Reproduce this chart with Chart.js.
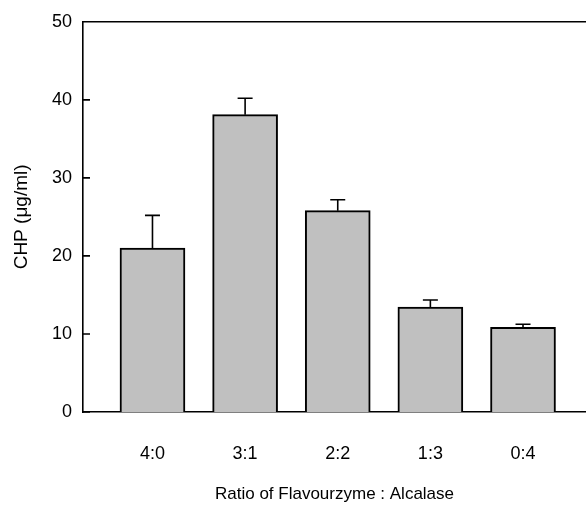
<!DOCTYPE html>
<html>
<head>
<meta charset="utf-8">
<script src="https://cdn.jsdelivr.net/npm/chart.js@4/dist/chart.umd.min.js"></script>
<style>
  html, body { margin: 0; padding: 0; background: #fff; }
  #wrap { width: 586px; height: 509px; }
</style>
</head>
<body>
<div id="wrap"><canvas id="chp"></canvas></div>
<script>
const categories = ['4:0', '3:1', '2:2', '1:3', '0:4'];
const chpValues = [21.0, 38.1, 25.8, 13.45, 10.85];
const chpErrors = [4.2, 2.1, 1.4, 0.9, 0.4];
const yTicks = [0, 10, 20, 30, 40, 50];

const font = 'Liberation Sans, Arial, sans-serif';

// upward error bars on top of each bar
const errorBars = {
    id: 'errorBars',
    afterDatasetsDraw(chart) {
        const ctx = chart.ctx;
        const yScale = chart.scales.y;
        const meta = chart.getDatasetMeta(0);
        ctx.save();
        ctx.strokeStyle = '#000';
        ctx.lineWidth = 1.6;
        meta.data.forEach((bar, i) => {
            const top = yScale.getPixelForValue(chpValues[i] + chpErrors[i]);
            ctx.beginPath();
            ctx.moveTo(bar.x, bar.y);
            ctx.lineTo(bar.x, top);
            ctx.moveTo(bar.x - 7.5, top);
            ctx.lineTo(bar.x + 7.5, top);
            ctx.stroke();
        });
        ctx.restore();
    }
};

// top frame line and inward y ticks
const frame = {
    id: 'frame',
    afterDraw(chart) {
        const { ctx, chartArea } = chart;
        const yScale = chart.scales.y;
        ctx.save();
        ctx.strokeStyle = '#000';
        ctx.lineWidth = 1.6;
        ctx.beginPath();
        ctx.moveTo(chartArea.left, chartArea.top);
        ctx.lineTo(chartArea.right, chartArea.top);
        yTicks.forEach(v => {
            const y = yScale.getPixelForValue(v);
            ctx.moveTo(chartArea.left, y);
            ctx.lineTo(chartArea.left + 7, y);
        });
        ctx.stroke();
        ctx.restore();
    }
};

new Chart(document.getElementById('chp'), {
    type: 'bar',
    data: {
        datasets: [{
            data: categories.map((c, i) => ({ x: i, y: chpValues[i] })),
            backgroundColor: '#c0c0c0',
            borderColor: '#000',
            borderWidth: 2,
            borderSkipped: 'bottom',
            barThickness: 65
        }]
    },
    options: {
        responsive: true,
        maintainAspectRatio: false,
        animation: false,
        layout: { padding: { top: 18, right: 0, bottom: 0, left: 0 } },
        plugins: {
            legend: { display: false },
            tooltip: { enabled: false }
        },
        scales: {
            x: {
                type: 'linear',
                min: -0.75,
                max: 4.68,
                offset: false,
                grid: { display: false, drawTicks: false, offset: false },
                border: { display: true, color: '#000', width: 1.6 },
                afterBuildTicks: (scale) => {
                    scale.ticks = categories.map((c, i) => ({ value: i }));
                },
                afterFit: (scale) => { scale.height = 97; },
                ticks: {
                    autoSkip: false,
                    maxRotation: 0,
                    padding: 31,
                    color: '#000',
                    font: { family: font, size: 18 },
                    callback: (value) => categories[value] ?? ''
                },
                title: {
                    display: true,
                    text: 'Ratio of Flavourzyme : Alcalase',
                    color: '#000',
                    font: { family: font, size: 17 },
                    padding: { top: 0, bottom: 4 }
                }
            },
            y: {
                min: 0,
                max: 50,
                grid: { display: false, drawTicks: false },
                border: { display: true, color: '#000', width: 1.6 },
                afterBuildTicks: (scale) => {
                    scale.ticks = yTicks.map(v => ({ value: v }));
                },
                afterFit: (scale) => { scale.width = 83; },
                ticks: {
                    padding: 11,
                    color: '#000',
                    font: { family: font, size: 18 }
                },
                title: {
                    display: true,
                    text: 'CHP (μg/ml)',
                    color: '#000',
                    font: { family: font, size: 19 },
                    padding: { top: 10, bottom: 0 }
                }
            }
        }
    },
    plugins: [errorBars, frame]
});
</script>
</body>
</html>
